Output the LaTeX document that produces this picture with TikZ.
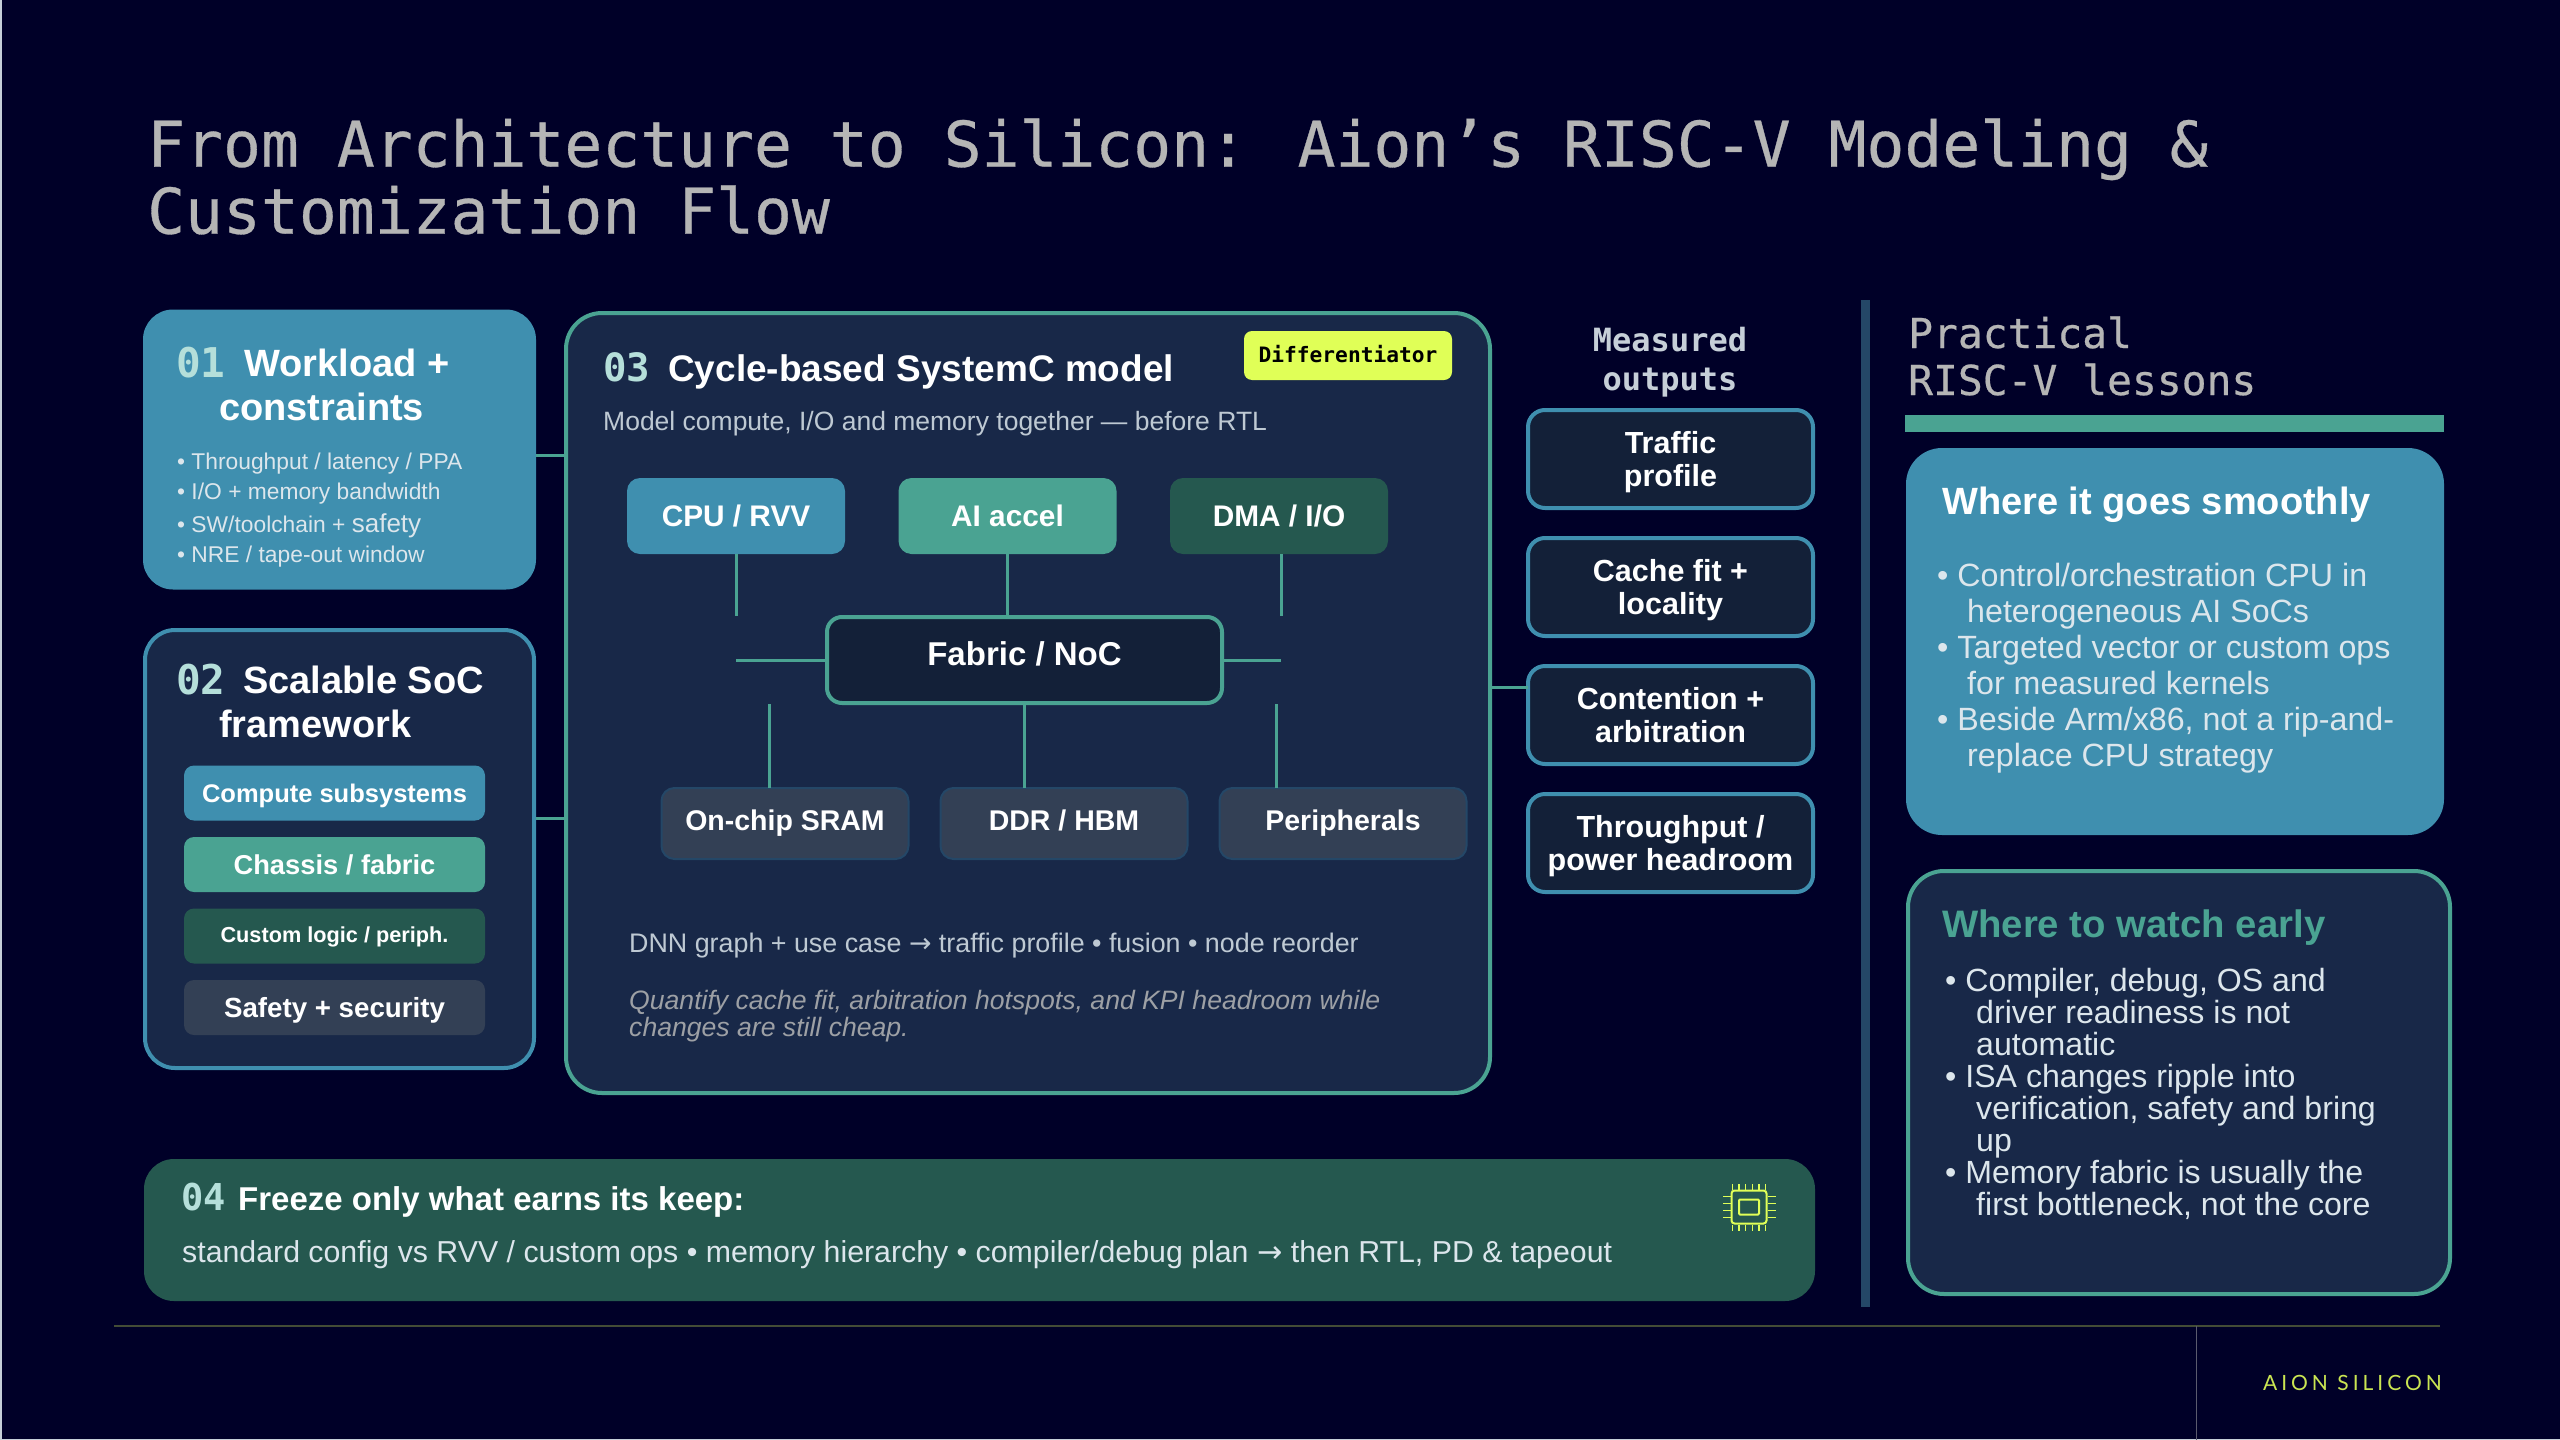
\documentclass[tikz,border=0pt]{standalone}
\usepackage{fontspec}
\setmainfont{Liberation Sans}
\newfontfamily\monofont{DejaVu Sans Mono}
\newfontfamily\titlefont[FakeBold=0.5]{DejaVu Sans Mono}
\newfontfamily\symfont{DejaVu Sans}
\newfontfamily\brandfont[LetterSpace=19]{Lato}
\usetikzlibrary{shapes,calc}
\definecolor{pagebg}{HTML}{000028}
\definecolor{panelfill}{HTML}{182848}
\definecolor{bluefill}{HTML}{3F8FAF}
\definecolor{tealfill}{HTML}{4AA392}
\definecolor{greenfill}{HTML}{25584F}
\definecolor{slatefill}{HTML}{334055}
\definecolor{darkfill}{HTML}{132038}
\definecolor{limefill}{HTML}{E0FF57}
\definecolor{numtext}{HTML}{B5DFDA}
\definecolor{softtext}{HTML}{DCE6EC}
\definecolor{greytext}{HTML}{B5B5B5}
\tikzstyle{panel} = [rectangle, draw, fill=panelfill, line width=4pt, rounded corners=30pt, inner sep=0pt, outer sep=0pt]
\tikzstyle{stagebar} = [rectangle, text=white, text height=24pt, text depth=5pt, minimum width=301pt, minimum height=55pt, rounded corners=10pt, inner sep=0pt, outer sep=0pt]
\tikzstyle{unitblock} = [rectangle, text=white, font=\bfseries\fontsize{29.8}{34}\selectfont, minimum width=218pt, minimum height=76pt, rounded corners=13pt, inner sep=0pt, outer sep=0pt]
\tikzstyle{memblock} = [rectangle, draw=panelfill!70!bluefill, line width=2pt, fill=slatefill, text=white, text height=20pt, text depth=6pt, font=\bfseries\fontsize{28.5}{32}\selectfont, minimum width=247pt, minimum height=71pt, rounded corners=13pt, inner sep=0pt, outer sep=0pt]
\tikzstyle{outblock} = [rectangle, draw=bluefill, line width=4pt, fill=darkfill, text=white, align=center, text depth=0pt, font=\bfseries\fontsize{30.5}{33.5}\selectfont, minimum width=285pt, minimum height=98pt, rounded corners=17pt, inner sep=0pt, outer sep=0pt]
\tikzstyle{stagenum} = [anchor=west, inner sep=0pt, text=numtext, font=\monofont\bfseries\fontsize{41}{44}\selectfont]
\tikzstyle{stagehead} = [anchor=west, inner sep=0pt, text=white, font=\bfseries\fontsize{38}{44}\selectfont]
\tikzstyle{plaintext} = [anchor=west, inner sep=0pt, align=left]
\tikzstyle{line} = [draw, tealfill, line width=3pt]
\begin{document}
\begin{tikzpicture}[x=1pt, y=-1pt]
    \useasboundingbox (0,0) rectangle (2560,1440);
    \fill [pagebg] (0,0) rectangle (2560,1440);
    \fill [softtext!90!pagebg] (0,0) rectangle (2,1440);
    \fill [softtext!90!pagebg] (0,1438.5) rectangle (2560,1440);
    % Title
    \node [plaintext, text=greytext, font=\titlefont\fontsize{63}{67}\selectfont] (title) at (147,176.5)
        {From Architecture to Silicon: Aion’s RISC-V Modeling \&\\Customization Flow};
    % Place panels
    \node [panel, draw=none, fill=bluefill, minimum width=393pt, minimum height=280pt] (workload) at (339.5,449.5) {};
    \node [panel, draw=bluefill, minimum width=389pt, minimum height=438pt] (framework) at (339.5,849) {};
    \node [panel, draw=tealfill, rounded corners=36pt, minimum width=924pt, minimum height=780pt] (model) at (1028,703) {};
    \node [panel, draw=none, fill=greenfill, minimum width=1671pt, minimum height=142pt] (freeze) at (979.5,1230) {};
    % Panel 01
    \node [stagenum] (num1) at (176,363) {01};
    \node [stagehead] (head1a) at (244,363) {Workload +};
    \node [stagehead] (head1b) at (219,407) {constraints};
    \node [plaintext, text=softtext, font=\fontsize{22.8}{30}\selectfont] (list1) at (177,510)
        {• Throughput / latency / PPA\\• I/O + memory bandwidth\\[3.5pt]• SW/toolchain + {\fontsize{26}{30}\selectfont safety}\\• NRE / tape-out window};
    % Panel 02
    \node [stagenum] (num2) at (176,680) {02};
    \node [stagehead] (head2a) at (243,680) {Scalable SoC};
    \node [stagehead] (head2b) at (219,724) {framework};
    \node [stagebar, fill=bluefill, font=\bfseries\fontsize{25.5}{28}\selectfont] (compute) at (334.5,793) {Compute subsystems};
    \node [stagebar, fill=tealfill, font=\bfseries\fontsize{27.3}{30}\selectfont, below of=compute, node distance=71.5pt] (chassis) {Chassis / fabric};
    \node [stagebar, fill=greenfill, text height=18pt, text depth=6pt, font=\bfseries\fontsize{21.7}{24}\selectfont, below of=chassis, node distance=71.5pt] (custom) {Custom logic / periph.};
    \node [stagebar, fill=slatefill, font=\bfseries\fontsize{27.7}{30}\selectfont, below of=custom, node distance=71.5pt] (safety) {Safety + security};
    % Panel 03
    \node [stagenum, font=\monofont\bfseries\fontsize{39}{44}\selectfont] (num3) at (603,367) {03};
    \node [stagehead, font=\bfseries\fontsize{37}{44}\selectfont] (head3) at (668,372) {Cycle-based SystemC model};
    \node [rectangle, fill=limefill, text=black, rounded corners=8pt, font=\monofont\bfseries\fontsize{21.2}{24}\selectfont, minimum width=208pt, minimum height=49pt, inner sep=0pt] (badge) at (1348,355.5) {\raisebox{4pt}{Differentiator}};
    \node [plaintext, text=softtext!85!panelfill, font=\fontsize{26.5}{30}\selectfont] (sub3) at (603,424) {Model compute, I/O and memory together — before RTL};
    \node [unitblock, fill=bluefill] (cpu) at (736,516) {CPU / RVV};
    \node [unitblock, fill=tealfill, right of=cpu, node distance=271.5pt] (accel) {AI accel};
    \node [unitblock, fill=greenfill, right of=accel, node distance=271.5pt] (dma) {DMA / I/O};
    \node [rectangle, draw=tealfill, line width=4pt, fill=darkfill, text=white, font=\bfseries\fontsize{33}{38}\selectfont, minimum width=395pt, minimum height=86pt, rounded corners=15pt, inner sep=0pt, outer sep=0pt] (fabric) at (1024.5,660) {\raisebox{12pt}{Fabric / NoC}};
    \node [memblock] (sram) at (785,823.5) {On-chip SRAM};
    \node [memblock, right of=sram, node distance=279pt] (ddr) {DDR / HBM};
    \node [memblock, right of=ddr, node distance=279pt] (periph) {Peripherals};
    \node [plaintext, text=softtext!85!panelfill, font=\fontsize{26.85}{30}\selectfont] (dnn) at (629,946) {DNN graph + use case {\symfont →} traffic profile • fusion • node reorder};
    \node [plaintext, text=greytext!85!panelfill, font=\itshape\fontsize{26.6}{27}\selectfont] (quant) at (629,1016)
        {Quantify cache fit, arbitration hotspots, and KPI headroom while\\changes are still cheap.};
    % Measured outputs
    \node [align=center, inner sep=0pt, text=softtext!90!pagebg, font=\monofont\bfseries\fontsize{32}{39}\selectfont] (measured) at (1670,362) {Measured\\outputs};
    \node [outblock] (traffic) at (1670.5,459) {Traffic\\profile};
    \node [outblock, below of=traffic, node distance=128pt] (cache) {Cache fit +\\locality};
    \node [outblock, below of=cache, node distance=128pt] (contention) {Contention +\\arbitration};
    \node [outblock, below of=contention, node distance=128pt] (headroom) {Throughput /\\power headroom};
    % Panel 04
    \node [stagenum, font=\monofont\bfseries\fontsize{37}{44}\selectfont] (num4) at (181,1197) {04};
    \node [anchor=west, inner sep=0pt, text=white, font=\bfseries\fontsize{33}{36}\selectfont] (head4) at (238,1202) {Freeze only what earns its keep:};
    \node [plaintext, text=softtext, font=\fontsize{30.3}{34}\selectfont] (body4) at (182,1255)
        {standard config vs RVV / custom ops • memory hierarchy • compiler/debug plan {\symfont →} then RTL, PD \& tapeout};
    % Chip icon
    \node [rectangle, draw=limefill, line width=2pt, rounded corners=3pt, minimum width=35pt, minimum height=33pt, inner sep=0pt] (chip) at (1749,1207) {};
    \node [rectangle, draw=limefill, line width=2pt, rounded corners=1pt, minimum width=20pt, minimum height=15pt, inner sep=0pt] (chipcore) at (1749,1207) {};
    \foreach \dx in {-16.5,-10,-3.5,3.5,10,16.5} {
        \draw [limefill, line width=1.3pt] ($(chip.north)+(\dx,0)$) -- ++(0,-6);
        \draw [limefill, line width=1.3pt] ($(chip.south)+(\dx,0)$) -- ++(0,6);
    }
    \foreach \dy in {-10.5,-3.5,3.5,10.5} {
        \draw [limefill, line width=1.3pt] ($(chip.west)+(0,\dy)$) -- ++(-8,0);
        \draw [limefill, line width=1.3pt] ($(chip.east)+(0,\dy)$) -- ++(8,0);
    }
    % Right column
    \coordinate (divtop) at (1865,300);
    \coordinate (divbot) at (1865,1307);
    \draw [line width=9pt, panelfill!70!bluefill] (divtop) -- (divbot);
    \node [plaintext, text=greytext, font=\titlefont\fontsize{41.3}{47}\selectfont] (lessons) at (1908,356) {Practical\\RISC-V lessons};
    \node [rectangle, fill=tealfill, minimum width=539pt, minimum height=17pt, inner sep=0pt] (rule) at (2174.5,423.5) {};
    \node [panel, draw=none, fill=bluefill, rounded corners=36pt, minimum width=538pt, minimum height=387pt] (smooth) at (2175,641.5) {};
    \node [panel, draw=tealfill, rounded corners=36pt, minimum width=542pt, minimum height=423pt] (watch) at (2179,1082.5) {};
    \node [stagehead] (smoothhead) at (1942,505) {Where it goes smoothly};
    \node [plaintext, text=softtext, font=\fontsize{32.2}{36}\selectfont] (smoothlist) at (1937,668)
        {• Control/orchestration CPU in\\\hspace*{30pt}heterogeneous AI SoCs\\• Targeted vector or custom ops\\\hspace*{30pt}for measured kernels\\• Beside Arm/x86, not a rip-and-\\\hspace*{30pt}replace CPU strategy};
    \node [stagehead, text=tealfill, font=\bfseries\fontsize{38.3}{44}\selectfont] (watchhead) at (1942,928) {Where to watch early};
    \node [plaintext, text=softtext, font=\fontsize{32.1}{32}\selectfont] (watchlist) at (1945,1093.5)
        {• Compiler, debug, OS and\\\hspace*{31pt}driver readiness is not\\\hspace*{31pt}automatic\\• ISA changes ripple into\\\hspace*{31pt}verification, safety and bring\\\hspace*{31pt}up\\• Memory fabric is usually the\\\hspace*{31pt}first bottleneck, not the core};
    % Footer
    \coordinate (footl) at (114,1326);
    \coordinate (footr) at (2440,1326);
    \coordinate (footv) at (2196,1326);
    \coordinate (footb) at (2196,1440);
    \draw [line width=2pt, limefill!30!pagebg] (footl) -- (footr);
    \draw [line width=1pt, greytext!50!pagebg] (footv) -- (footb);
    \node [anchor=east, inner sep=0pt, text=limefill!90!pagebg, font=\brandfont\fontsize{21}{24}\selectfont] (brand) at (2442,1383) {AION SILICON};
    % Free ends of the connectors
    \coordinate (workout) at (536,455);
    \coordinate (frameout) at (536,818.5);
    \coordinate (modelout) at (1492,687);
    \coordinate (cpuend) at (736,616);
    \coordinate (dmaend) at (1281,616);
    \coordinate (leftend) at (736,660);
    \coordinate (rightend) at (1281,660);
    \coordinate (sramend) at (769,704);
    \coordinate (periphend) at (1276,704);
    % Draw edges
    \path [line] (workout) -- (workout -| model.west);
    \path [line] (frameout) -- (frameout -| model.west);
    \path [line] (modelout) -- (modelout -| contention.west);
    \path [line] (cpu.south) -- (cpuend);
    \path [line] (accel.south) -- (accel.south |- fabric.north);
    \path [line] (dmaend |- dma.south) -- (dmaend);
    \path [line] (fabric.west) -- (leftend);
    \path [line] (fabric.east) -- (rightend);
    \path [line] (sramend) -- (sramend |- sram.north);
    \path [line] (fabric.south) -- (fabric.south |- ddr.north);
    \path [line] (periphend) -- (periphend |- periph.north);
\end{tikzpicture}
\end{document}
